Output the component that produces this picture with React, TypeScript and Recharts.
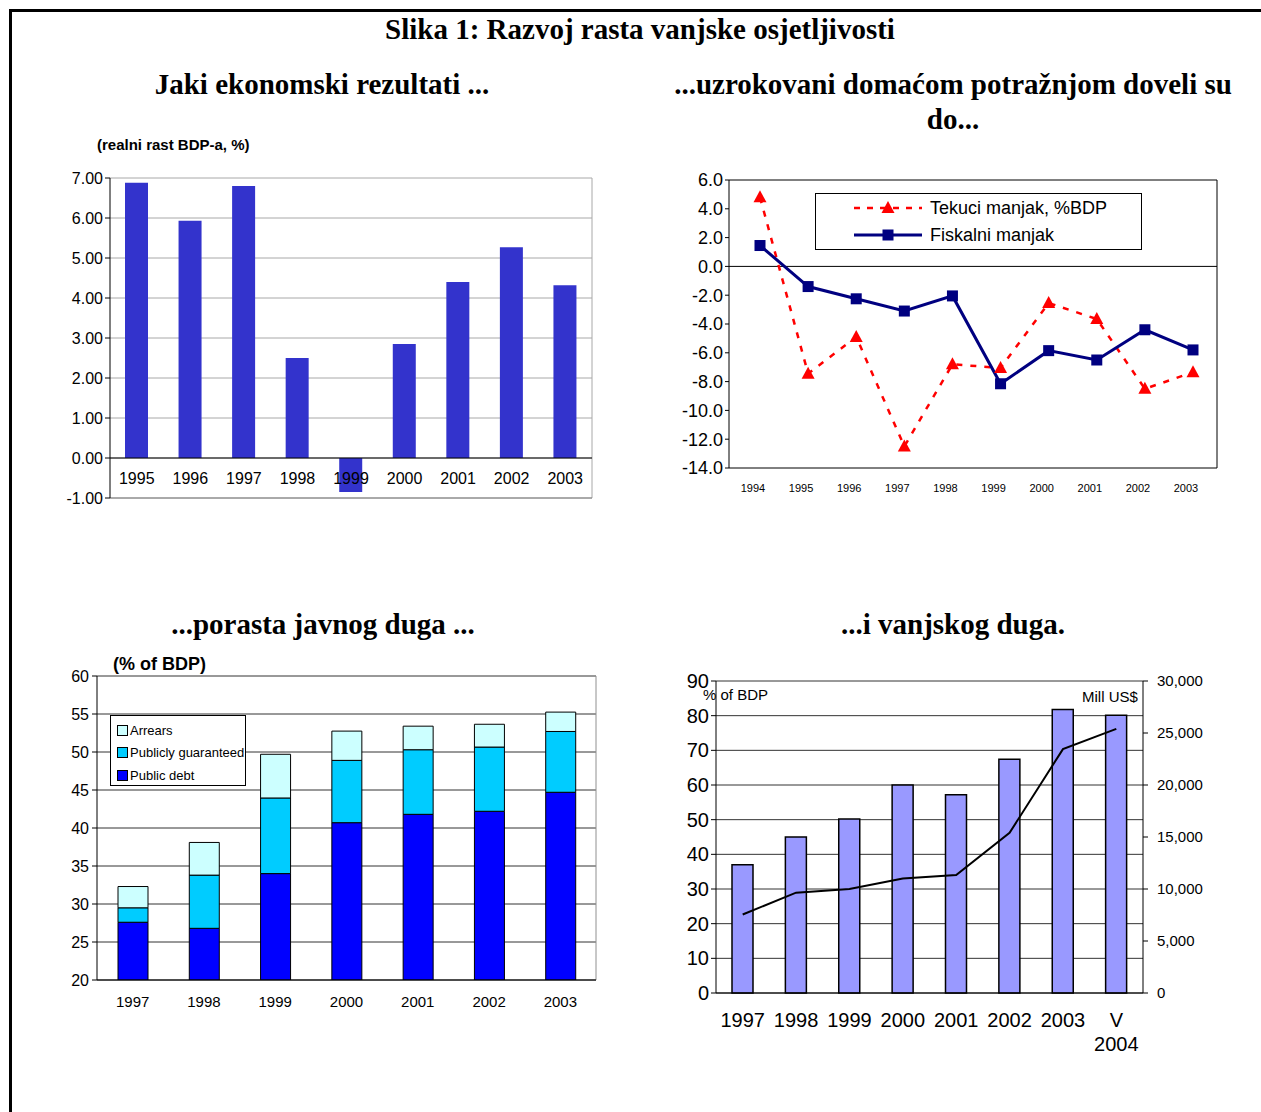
import React from 'react';
import {
  BarChart, Bar, LineChart, Line, ComposedChart, XAxis, YAxis, CartesianGrid, ReferenceLine, Legend
} from 'recharts';

const SANS = '"Liberation Sans", Arial, sans-serif';
const SERIF = '"Liberation Serif", "Times New Roman", serif';

// Jaki ekonomski rezultati (realni rast BDP-a, %)
const growthYears = ['1995', '1996', '1997', '1998', '1999', '2000', '2001', '2002', '2003'];
const growthValues = [6.88, 5.93, 6.8, 2.5, -0.85, 2.85, 4.4, 5.27, 4.32];
const growthTicks = [-1, 0, 1, 2, 3, 4, 5, 6, 7];

// Tekuci / fiskalni manjak
const deficitYears = ['1994', '1995', '1996', '1997', '1998', '1999', '2000', '2001', '2002', '2003'];
const currentAccount = [4.8, -7.45, -4.9, -12.5, -6.8, -7.05, -2.55, -3.65, -8.5, -7.35];
const fiscalDeficit = [1.45, -1.4, -2.25, -3.1, -2.05, -8.15, -5.85, -6.5, -4.4, -5.8];
const deficitTicks = [-14, -12, -10, -8, -6, -4, -2, 0, 2, 4, 6];

// Javni dug (% of BDP)
const debtYears = ['1997', '1998', '1999', '2000', '2001', '2002', '2003'];
const publicDebt = [27.6, 26.8, 34.0, 40.7, 41.8, 42.2, 44.7];
const publiclyGuaranteed = [1.9, 7.0, 9.95, 8.2, 8.5, 8.45, 8.0];
const arrears = [2.8, 4.3, 5.75, 3.85, 3.1, 3.0, 2.55];
const debtTicks = [20, 25, 30, 35, 40, 45, 50, 55, 60];

// Vanjski dug
const extYears = ['1997', '1998', '1999', '2000', '2001', '2002', '2003', 'V 2004'];
const extDebtPct = [37, 45, 50.2, 60, 57.2, 67.4, 81.8, 80.1];
const extDebtUsd = [7550, 9650, 10000, 11000, 11350, 15400, 23450, 25400];
const pctTicks = [0, 10, 20, 30, 40, 50, 60, 70, 80, 90];
const usdTicks = [0, 5000, 10000, 15000, 20000, 25000, 30000];

const growthData = growthYears.map((year, i) => ({ year, value: growthValues[i] }));
const deficitData = deficitYears.map((year, i) => ({ year, tekuci: currentAccount[i], fiskalni: fiscalDeficit[i] }));
const debtData = debtYears.map((year, i) => ({
  year, publicDebt: publicDebt[i], guaranteed: publiclyGuaranteed[i], arrears: arrears[i]
}));
const extData = extYears.map((year, i) => ({ year, pct: extDebtPct[i], usd: extDebtUsd[i] }));

const deficitLegendOrder = ['tekuci', 'fiskalni'];
const debtLegendOrder = ['arrears', 'guaranteed', 'publicDebt'];

const rightEdge = ({ offset }: any) => [offset.left + offset.width];
const topEdge = ({ offset }: any) => [offset.top];

const GrowthTick = (p: any) => (
  <text x={p.x} y={p.y - 14} textAnchor="middle" fontSize={16} fontFamily={SANS} fill="#000">
    {p.payload.value}
  </text>
);

const ExtTick = (p: any) => {
  const lines = String(p.payload.value).split(' ');
  return (
    <text x={p.x} y={p.y} textAnchor="middle" fontSize={20} fontFamily={SANS} fill="#000">
      {lines.map((l, i) => (
        <tspan key={i} x={p.x} y={p.y + 34 + i * 24}>{l}</tspan>
      ))}
    </text>
  );
};

const Triangle = (p: any) => (
  <path key={`t-${p.index}`} d={`M${p.cx},${p.cy - 7} L${p.cx + 6.5},${p.cy + 5} L${p.cx - 6.5},${p.cy + 5} Z`} fill="#FF0000" />
);
const Square = (p: any) => (
  <rect key={`s-${p.index}`} x={p.cx - 5.5} y={p.cy - 5.5} width={11} height={11} fill="#000080" />
);

const byOrder = (order: string[]) => (a: any, b: any) => order.indexOf(a.dataKey) - order.indexOf(b.dataKey);

const deficitLegend = (props: any) => {
  const items = [...(props.payload || [])].sort(byOrder(deficitLegendOrder));
  return (
    <div style={{
      border: '1px solid #000', background: '#fff', width: 327, height: 57, boxSizing: 'border-box',
      padding: '0 0 0 36px', fontFamily: SANS, fontSize: 18, color: '#000'
    }}>
      {items.map((entry: any) => (
        <div key={entry.value} style={{ display: 'flex', alignItems: 'center', height: 27 }}>
          <svg width={74} height={16} style={{ flex: 'none' }}>
            {entry.dataKey === 'tekuci' ? (
              <g>
                <line x1={2} y1={8} x2={70} y2={8} stroke="#FF0000" strokeWidth={2.5} strokeDasharray="6 7" />
                <path d="M36,1 L42.5,13 L29.5,13 Z" fill="#FF0000" />
              </g>
            ) : (
              <g>
                <line x1={2} y1={8} x2={70} y2={8} stroke="#000080" strokeWidth={3} />
                <rect x={30.5} y={2.5} width={11} height={11} fill="#000080" />
              </g>
            )}
          </svg>
          <span style={{ marginLeft: 4, lineHeight: '18px' }}>{entry.value}</span>
        </div>
      ))}
    </div>
  );
};

const debtLegend = (props: any) => {
  const items = [...(props.payload || [])].sort(byOrder(debtLegendOrder));
  return (
    <div style={{
      border: '1px solid #000', background: '#fff', width: 136, height: 71, boxSizing: 'border-box',
      padding: '3px 0 0 6px', fontFamily: SANS, fontSize: 13, color: '#000'
    }}>
      {items.map((entry: any) => (
        <div key={entry.value} style={{ display: 'flex', alignItems: 'center', height: 22.5, whiteSpace: 'nowrap' }}>
          <span style={{
            display: 'inline-block', width: 9, height: 9, background: entry.color,
            border: '1px solid #000', marginRight: 2
          }} />
          <span>{entry.value}</span>
        </div>
      ))}
    </div>
  );
};

const titleStyle: React.CSSProperties = {
  position: 'absolute', fontFamily: SERIF, fontWeight: 'bold', fontSize: 29, color: '#000',
  textAlign: 'center', lineHeight: '35px', whiteSpace: 'nowrap'
};

export default function App() {
  return (
    <div style={{ position: 'absolute', left: 0, top: 0, width: 1261, height: 1112, background: '#fff', overflow: 'hidden' }}>
      <div style={{
        position: 'absolute', left: 9, top: 9, width: 1261, height: 1112,
        borderTop: '3px solid #000', borderLeft: '3px solid #000'
      }} />

      <div style={{ ...titleStyle, left: 340, top: 12, width: 600 }}>Slika 1: Razvoj rasta vanjske osjetljivosti</div>
      <div style={{ ...titleStyle, left: 22, top: 67, width: 600 }}>Jaki ekonomski rezultati ...</div>
      <div style={{ ...titleStyle, left: 653, top: 67, width: 600 }}>
        ...uzrokovani domaćom potražnjom doveli su<br />do...
      </div>
      <div style={{ ...titleStyle, left: 23, top: 607, width: 600 }}>...porasta javnog duga ...</div>
      <div style={{ ...titleStyle, left: 653, top: 607, width: 600 }}>...i vanjskog duga.</div>

      {/* Chart 1: real GDP growth */}
      <div style={{ position: 'absolute', left: 97, top: 136, fontFamily: SANS, fontWeight: 'bold', fontSize: 15 }}>
        (realni rast BDP-a, %)
      </div>
      <div style={{ position: 'absolute', left: 40, top: 160 }}>
        <BarChart width={570} height={358} data={growthData} margin={{ top: 18, right: 18, left: 0, bottom: 0 }}>
          <CartesianGrid stroke="#a8a8a8" verticalCoordinatesGenerator={rightEdge} />
          <XAxis dataKey="year" height={20} tickLine={false} tickSize={0} tickMargin={0}
            axisLine={{ stroke: '#808080' }} tick={GrowthTick} interval={0} />
          <YAxis domain={[-1, 7]} ticks={growthTicks} width={70} tickFormatter={(v: number) => v.toFixed(2)}
            axisLine={{ stroke: '#000' }} tickLine={{ stroke: '#000' }} tickSize={5} tickMargin={2}
            tick={{ fill: '#000', fontSize: 16, fontFamily: SANS }} interval={0} />
          <ReferenceLine y={0} stroke="#000" />
          <Bar dataKey="value" fill="#3333CC" barSize={23} isAnimationActive={false} />
        </BarChart>
      </div>

      {/* Chart 2: current account and fiscal deficit */}
      <div style={{ position: 'absolute', left: 655, top: 165 }}>
        <LineChart width={582} height={333} data={deficitData} margin={{ top: 15, right: 20, left: 0, bottom: 0 }}>
          <CartesianGrid stroke="#000" horizontalCoordinatesGenerator={topEdge} verticalCoordinatesGenerator={rightEdge} />
          <XAxis dataKey="year" padding={{ left: 31, right: 24 }} tickLine={false} tickSize={0} tickMargin={16}
            axisLine={{ stroke: '#000' }} tick={{ fill: '#000', fontSize: 11, fontFamily: SANS, dx: -7 }} interval={0} />
          <YAxis domain={[-14, 6]} ticks={deficitTicks} width={74} tickFormatter={(v: number) => v.toFixed(1)}
            axisLine={{ stroke: '#000' }} tickLine={{ stroke: '#000' }} tickSize={4} tickMargin={2}
            tick={{ fill: '#000', fontSize: 18, fontFamily: SANS }} interval={0} />
          <ReferenceLine y={0} stroke="#000" />
          <Legend layout="horizontal" verticalAlign="middle" align="center" content={deficitLegend}
            wrapperStyle={{ position: 'absolute', left: 160, top: 28, width: 327, height: 57 }} />
          <Line dataKey="tekuci" name="Tekuci manjak, %BDP" stroke="#FF0000" strokeWidth={2.5}
            strokeDasharray="6 8" dot={Triangle} activeDot={false} isAnimationActive={false} />
          <Line dataKey="fiskalni" name="Fiskalni manjak" stroke="#000080" strokeWidth={3}
            dot={Square} activeDot={false} isAnimationActive={false} />
        </LineChart>
      </div>

      {/* Chart 3: public debt */}
      <div style={{ position: 'absolute', left: 113, top: 654, fontFamily: SANS, fontWeight: 'bold', fontSize: 18 }}>
        (% of BDP)
      </div>
      <div style={{ position: 'absolute', left: 40, top: 660 }}>
        <BarChart width={570} height={350} data={debtData} margin={{ top: 16, right: 14, left: 0, bottom: 0 }}>
          <CartesianGrid stroke="#333" vertical={false} />
          <CartesianGrid stroke="#909090" horizontal={false} verticalCoordinatesGenerator={rightEdge} />
          <XAxis dataKey="year" tickLine={false} tickSize={0} tickMargin={16} axisLine={{ stroke: '#000' }}
            tick={{ fill: '#000', fontSize: 15, fontFamily: SANS }} interval={0} />
          <YAxis domain={[20, 60]} ticks={debtTicks} allowDataOverflow width={57}
            axisLine={{ stroke: '#000' }} tickLine={{ stroke: '#000' }} tickSize={5} tickMargin={3}
            tick={{ fill: '#000', fontSize: 16, fontFamily: SANS }} interval={0} />
          <Legend layout="horizontal" verticalAlign="middle" align="center" content={debtLegend}
            wrapperStyle={{ position: 'absolute', left: 70, top: 55, width: 136, height: 71 }} />
          <Bar dataKey="publicDebt" name="Public debt" stackId="d" fill="#0000FF" stroke="#000" strokeWidth={1}
            barSize={30} isAnimationActive={false} />
          <Bar dataKey="guaranteed" name="Publicly guaranteed" stackId="d" fill="#00CCFF" stroke="#000" strokeWidth={1}
            barSize={30} isAnimationActive={false} />
          <Bar dataKey="arrears" name="Arrears" stackId="d" fill="#CCFFFF" stroke="#000" strokeWidth={1}
            barSize={30} isAnimationActive={false} />
        </BarChart>
      </div>

      {/* Chart 4: external debt */}
      <div style={{ position: 'absolute', left: 660, top: 668 }}>
        <ComposedChart width={558} height={400} data={extData} margin={{ top: 13, right: 0, left: 0, bottom: 0 }}>
          <CartesianGrid yAxisId="pct" stroke="#333" vertical={false} />
          <XAxis dataKey="year" height={75} tickLine={false} tickSize={0} tickMargin={0}
            axisLine={{ stroke: '#000' }} tick={ExtTick} interval={0} />
          <YAxis yAxisId="pct" domain={[0, 90]} ticks={pctTicks} width={56}
            axisLine={{ stroke: '#000' }} tickLine={{ stroke: '#000' }} tickSize={5} tickMargin={2}
            tick={{ fill: '#000', fontSize: 20, fontFamily: SANS }} interval={0} />
          <YAxis yAxisId="usd" orientation="right" domain={[0, 30000]} ticks={usdTicks} width={75}
            tickFormatter={(v: number) => v.toLocaleString('en-US')}
            axisLine={{ stroke: '#000' }} tickLine={{ stroke: '#000' }} tickSize={5} tickMargin={9}
            tick={{ fill: '#000', fontSize: 15, fontFamily: SANS, textAnchor: 'start' }} interval={0} />
          <Bar yAxisId="pct" dataKey="pct" fill="#9999FF" stroke="#000" strokeWidth={1.5} barSize={21}
            isAnimationActive={false} />
          <Line yAxisId="usd" dataKey="usd" stroke="#000" strokeWidth={2} dot={false} activeDot={false}
            isAnimationActive={false} />
        </ComposedChart>
      </div>
      <div style={{ position: 'absolute', left: 703, top: 686, fontFamily: SANS, fontSize: 15 }}>% of BDP</div>
      <div style={{ position: 'absolute', left: 1082, top: 688, fontFamily: SANS, fontSize: 15 }}>Mill US$</div>
    </div>
  );
}
